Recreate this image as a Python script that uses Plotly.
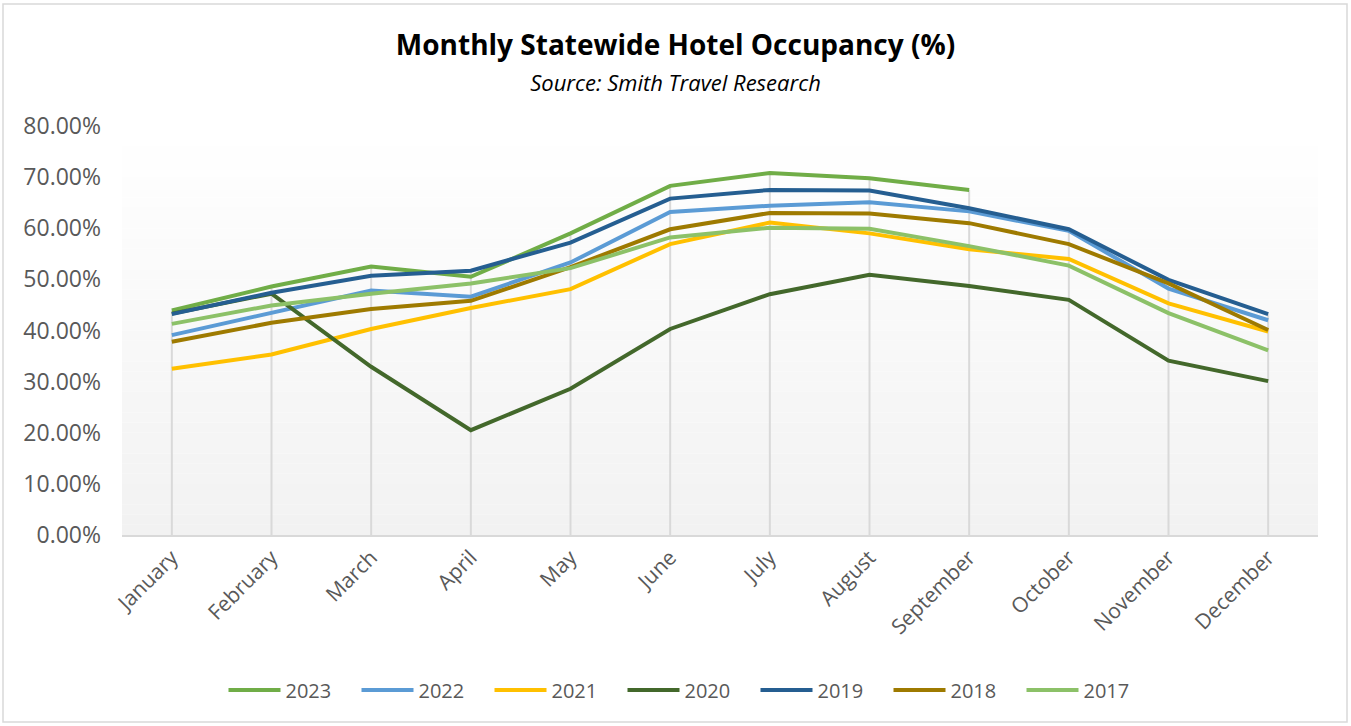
import plotly.graph_objects as go

months = ["January", "February", "March", "April", "May", "June", "July",
          "August", "September", "October", "November", "December"]

y2023 = [43.9, 48.6, 52.5, 50.5, 59.0, 68.3, 70.8, 69.8, 67.5, None, None, None]
y2022 = [39.1, 43.5, 47.8, 46.6, 53.3, 63.2, 64.4, 65.1, 63.3, 59.5, 48.2, 42.0]
y2021 = [32.5, 35.3, 40.3, 44.4, 48.1, 56.9, 61.1, 59.0, 55.9, 54.0, 45.3, 39.8]
y2020 = [43.3, 47.2, 32.9, 20.5, 28.6, 40.3, 47.1, 50.9, 48.7, 46.0, 34.1, 30.1]
y2019 = [43.2, 47.4, 50.7, 51.7, 57.2, 65.8, 67.5, 67.4, 63.9, 59.8, 49.9, 43.2]
y2018 = [37.8, 41.5, 44.2, 45.8, 52.4, 59.8, 63.0, 62.9, 61.0, 56.9, 49.2, 40.1]
y2017 = [41.3, 44.9, 47.2, 49.2, 52.2, 58.2, 60.1, 59.9, 56.5, 52.7, 43.4, 36.1]

series = [
    ("2023", y2023, "#70AD47"),
    ("2022", y2022, "#5B9BD5"),
    ("2021", y2021, "#FFC000"),
    ("2020", y2020, "#43682B"),
    ("2019", y2019, "#255E91"),
    ("2018", y2018, "#9E7A00"),
    ("2017", y2017, "#8CC168"),
]

FONT = "Open Sans"
GRAY = "#595959"

fig = go.Figure()

# drop lines from the highest value in each month to the axis
dx, dy = [], []
for i, m in enumerate(months):
    vals = [s[1][i] for s in series if s[1][i] is not None]
    top = max(vals) / 100
    dx += [m, m, None]
    dy += [0, top, None]
fig.add_trace(go.Scatter(x=dx, y=dy, mode="lines", line=dict(color="#d9d9d9", width=2),
                         showlegend=False, hoverinfo="skip"))

for name, vals, color in series:
    fig.add_trace(go.Scatter(
        x=months, y=[v / 100 if v is not None else None for v in vals],
        name=name, mode="lines", line=dict(color=color, width=4),
    ))

# gradient background of the plot area
shapes = []
n = 40
for k in range(n):
    t = k / (n - 1)
    c = int(round(255 - (255 - 242) * t))
    shapes.append(dict(type="rect", xref="paper", yref="paper",
                       x0=0, x1=1, y0=1 - (k + 1) / n, y1=1 - k / n,
                       fillcolor=f"rgb({c},{c},{c})", line=dict(width=0), layer="below"))

W, H = 1351, 726
ml, mr, mt, mb = 122, 33, 126, 191
pw, ph = W - ml - mr, H - mt - mb
# chart border
shapes.append(dict(type="rect", xref="paper", yref="paper",
                   x0=(3 - ml) / pw, x1=(1347 - ml) / pw,
                   y0=(H - mb - 722) / ph, y1=(H - mb - 4) / ph,
                   line=dict(color="#d9d9d9", width=1.5), fillcolor="rgba(0,0,0,0)"))

fig.update_layout(
    width=W, height=H,
    margin=dict(l=ml, r=mr, t=mt, b=mb),
    paper_bgcolor="white", plot_bgcolor="rgba(0,0,0,0)",
    shapes=shapes,
    title=dict(
        text="<b>Monthly Statewide Hotel Occupancy (%)</b><br><span style='font-size:22px'><i>Source: Smith Travel Research</i></span>",
        x=0.5, xanchor="center", y=1 - 55 / H, yanchor="middle",
        font=dict(family=FONT, size=28, color="black"),
    ),
    xaxis=dict(
        type="category", range=[-0.5, 11.5], showgrid=False,
        showline=True, linecolor="#d9d9d9", linewidth=2,
        tickangle=-45, tickfont=dict(family=FONT, size=21, color=GRAY),
        ticks="", fixedrange=True,
    ),
    yaxis=dict(
        range=[0, 0.8], dtick=0.1, tickformat=".2%", showgrid=False,
        zeroline=False, showline=False,
        tickfont=dict(family=FONT, size=23, color=GRAY),
        ticklabelstandoff=20,
    ),
    legend=dict(
        orientation="h", x=(689 - ml) / pw, xanchor="center",
        y=-(690 - (H - mb)) / ph, yanchor="middle",
        font=dict(family=FONT, size=20, color=GRAY),
        entrywidth=66, entrywidthmode="pixels", itemwidth=52,
        traceorder="normal",
    ),
    showlegend=True,
)

fig.write_html("out.html", config={"displayModeBar": False},
               post_script="document.body.style.margin='0';")
